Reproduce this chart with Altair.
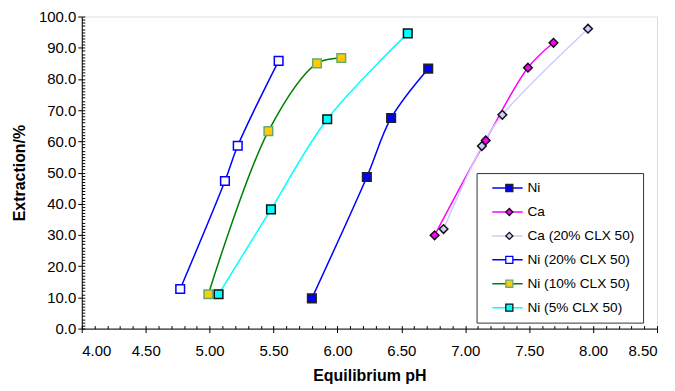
import altair as alt
import pandas as pd

# ---- data ----
series_names = ["Ni", "Ca", "Ca (20% CLX 50)", "Ni (20% CLX 50)", "Ni (10% CLX 50)", "Ni (5% CLX 50)"]

ni_ph = [5.80, 6.23, 6.42, 6.71]
ni_ext = [9.7, 48.6, 67.5, 83.3]

ca_ph = [6.76, 7.16, 7.49, 7.69]
ca_ext = [29.9, 60.3, 83.6, 91.6]

ca20_ph = [6.83, 7.13, 7.29, 7.96]
ca20_ext = [31.9, 58.5, 68.5, 96.1]

ni20_ph = [4.77, 5.12, 5.22, 5.54]
ni20_ext = [12.7, 47.3, 58.6, 85.8]

ni10_ph = [4.99, 5.46, 5.84, 6.03]
ni10_ext = [11.0, 63.3, 85.0, 86.7]

ni5_ph = [5.07, 5.48, 5.92, 6.55]
ni5_ext = [11.0, 38.2, 67.1, 94.6]

x_ticks = [4.0, 4.5, 5.0, 5.5, 6.0, 6.5, 7.0, 7.5, 8.0, 8.5]
y_ticks = [0, 10, 20, 30, 40, 50, 60, 70, 80, 90, 100]
x_minor = [round(4.0 + 0.1 * i, 1) for i in range(46)]
y_minor = list(range(0, 101))

line_colors = ["#0000FF", "#FF00FF", "#CCCCFF", "#0000FF", "#008000", "#00FFFF"]
fill_colors = ["#0000FF", "#FF00FF", "#CCCCFF", "#FFFFFF", "#FFCC00", "#00FFFF"]
edge_colors = ["#222222", "#111111", "#111111", "#0000FF", "#66AA77", "#111111"]
shapes = ["square", "diamond", "diamond", "square", "square", "square"]

rows = []
for name, xs, ys in [
    ("Ni", ni_ph, ni_ext),
    ("Ca", ca_ph, ca_ext),
    ("Ca (20% CLX 50)", ca20_ph, ca20_ext),
    ("Ni (20% CLX 50)", ni20_ph, ni20_ext),
    ("Ni (10% CLX 50)", ni10_ph, ni10_ext),
    ("Ni (5% CLX 50)", ni5_ph, ni5_ext),
]:
    for a, b in zip(xs, ys):
        rows.append({"series": name, "pH": a, "ext": b})
df = pd.DataFrame(rows)

FONT = "Liberation Sans"
xscale = alt.Scale(domain=[4.0, 8.5], nice=False, zero=False)
yscale = alt.Scale(domain=[0, 100], nice=False)

major_x = alt.Axis(values=x_ticks, format=".2f", orient="bottom", tickSize=4, labelPadding=11,
                   labelFontSize=15, labelFont=FONT, title="Equilibrium pH", titleFont=FONT,
                   titleFontSize=16, titleFontWeight="bold", titlePadding=9, grid=False,
                   domainColor="#000000", tickColor="#000000", labelColor="#000000",
                   titleColor="#000000")
major_y = alt.Axis(values=y_ticks, format=".1f", orient="left", tickSize=4, labelPadding=2,
                   labelFontSize=15, labelFont=FONT, title="Extraction/%", titleFont=FONT,
                   titleFontSize=16, titleFontWeight="bold", titlePadding=11, grid=False,
                   domainColor="#000000", tickColor="#000000", labelColor="#000000",
                   titleColor="#000000")
minor_x = alt.Axis(values=x_minor, orient="bottom", offset=-3, tickSize=3, labels=False,
                   domain=False, grid=False, title="", tickColor="#000000")
minor_y = alt.Axis(values=y_minor, orient="left", offset=-3, tickSize=3, labels=False,
                   domain=False, grid=False, title="", tickColor="#000000")

common_leg = dict(orient="none", legendX=396, legendY=157, title=None, padding=8,
                  clipHeight=14, rowPadding=10, labelFont=FONT, labelFontSize=13.7,
                  labelColor="#000000", labelOffset=4)

line_legend = alt.Legend(symbolType="stroke", symbolSize=930, symbolStrokeWidth=1.5,
                         symbolOffset=7, strokeColor="#333333", **common_leg)
pt_leg = dict(symbolSize=50, symbolStrokeWidth=1.3, symbolOffset=18, labelExpr="''", **common_leg)

lines = alt.Chart(df).mark_line(interpolate="catmull-rom", strokeWidth=1.5).encode(
    x=alt.X("pH:Q", scale=xscale, axis=major_x),
    y=alt.Y("ext:Q", scale=yscale, axis=major_y),
    stroke=alt.Stroke("series:N", scale=alt.Scale(domain=series_names, range=line_colors),
                      legend=line_legend),
    detail="series:N",
)

points = alt.Chart(df).mark_point(filled=True, opacity=1, strokeWidth=1.5).encode(
    x=alt.X("pH:Q", scale=xscale, axis=minor_x),
    y=alt.Y("ext:Q", scale=yscale, axis=minor_y),
    fill=alt.Fill("series:N", scale=alt.Scale(domain=series_names, range=fill_colors),
                  legend=alt.Legend(**pt_leg)),
    stroke=alt.Stroke("series:N", scale=alt.Scale(domain=series_names, range=edge_colors),
                      legend=alt.Legend(**pt_leg)),
    shape=alt.Shape("series:N", scale=alt.Scale(domain=series_names, range=shapes),
                    legend=alt.Legend(**pt_leg)),
    size=alt.value(75),
)

chart = alt.layer(lines, points).resolve_scale(
    stroke="independent", fill="independent", shape="independent"
).resolve_axis(x="independent", y="independent").properties(
    width=577, height=313,
    autosize=alt.AutoSizeParams(type="none"),
    padding={"left": 74, "top": 8, "right": 10, "bottom": 55},
).configure_view(stroke="#808080", strokeWidth=1).configure(background="#FFFFFF")

chart.save("out.html", embed_options={"renderer": "svg", "actions": False})
